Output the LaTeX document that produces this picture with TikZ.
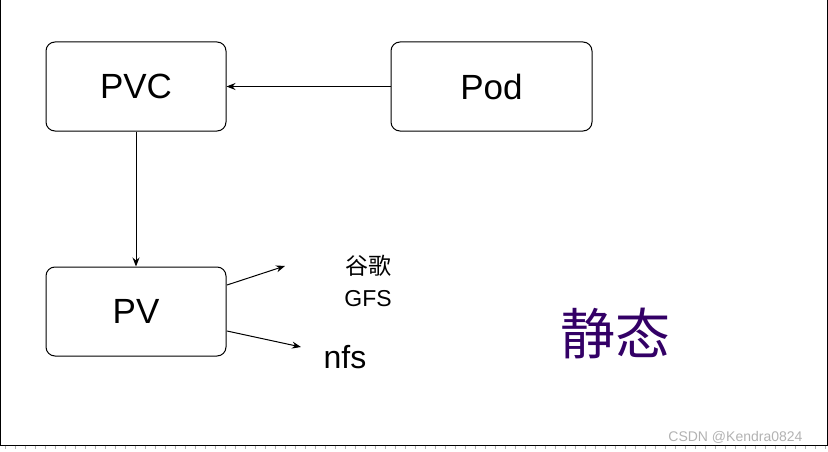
\documentclass[tikz,border=0pt]{standalone}
\usepackage{fontspec}
\setmainfont{Liberation Sans}
\newfontfamily\cjk{Noto Sans CJK SC}
\usetikzlibrary{arrows.meta}
\begin{document}
\begin{tikzpicture}[x=1pt,y=-1pt,
  box/.style={draw,rounded corners=9pt,minimum width=180pt,minimum height=89pt,font=\fontsize{35}{40}\selectfont,line width=1pt},
  arr/.style={-{Stealth[length=9pt,width=7pt]},line width=1pt}]
\useasboundingbox (0,0) rectangle (828,452);
\draw[line width=1pt] (0.5,-2) -- (0.5,445.5) -- (827.5,445.5) -- (827.5,-2);
\foreach \i in {0,...,82} \draw[gray!60,line width=0.4pt] (\i*10+5,445.5) -- (\i*10+5,449);
\node[box] (pvc) at (136,86.5) {PVC};
\node[box,minimum width=201pt] (pod) at (491.5,86.5) {Pod};
\node[box] (pv) at (136,311.5) {PV};
\draw[arr] (pod) -- (pvc);
\draw[arr] (pvc) -- (pv);
\coordinate (g) at (285,266);
\coordinate (n) at (301,347);
\draw[arr] (227,285) -- (g);
\draw[arr] (227,331) -- (n);
\node[font=\fontsize{23}{32}\selectfont,align=center] (gfs) at (368,281) {{\cjk 谷歌}\\GFS};
\node[font=\fontsize{32}{36}\selectfont] (nfs) at (345,357) {nfs};
\definecolor{dpurple}{HTML}{330066}
\node[font=\cjk\fontsize{55}{60}\selectfont,text=dpurple] (st) at (615,333) {静态};
\node[font=\fontsize{14}{16}\selectfont,text=gray!60,anchor=east] (wm) at (806,437) {CSDN @Kendra0824};
\end{tikzpicture}
\end{document}
